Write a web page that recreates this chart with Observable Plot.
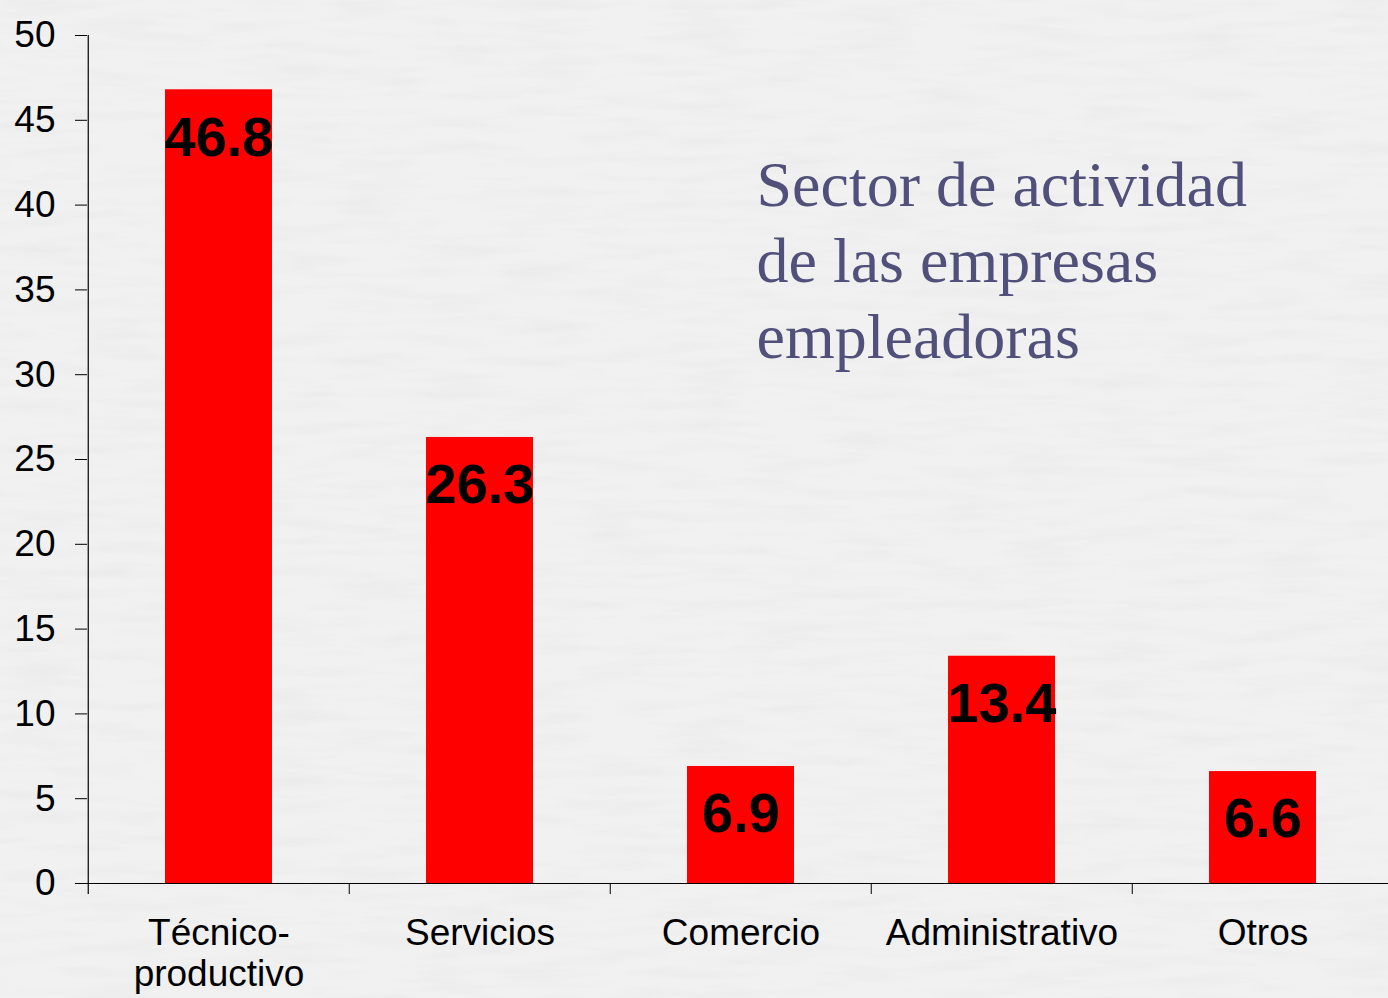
<!DOCTYPE html>
<html>
<head>
<meta charset="utf-8">
<script src="https://cdn.jsdelivr.net/npm/d3@7"></script>
<script src="https://cdn.jsdelivr.net/npm/@observablehq/plot@0.6"></script>
<style>
  html, body { margin: 0; padding: 0; background: #eeeeee; }
  #chart { position: relative; width: 1388px; height: 998px; }
  #texture { position: absolute; left: 0; top: 0; }
  #chart > svg:not(#texture) { position: absolute; left: 0; top: 0; display: block; }
</style>
</head>
<body>
<div id="chart">
  <svg id="texture" width="1388" height="998">
    <filter id="paper" x="0" y="0" width="100%" height="100%">
      <feTurbulence type="fractalNoise" baseFrequency="0.012 0.09" numOctaves="3" seed="4"/>
      <feColorMatrix type="matrix" values="0 0 0 0 0.72  0 0 0 0 0.72  0 0 0 0 0.72  0 0 0 -1.6 0.95"/>
    </filter>
    <rect width="1388" height="998" fill="#f1f1f1"/>
    <rect width="1388" height="998" filter="url(#paper)" opacity="0.35"/>
  </svg>
</div>
<script>
const categories = ["Técnico-productivo", "Servicios", "Comercio", "Administrativo", "Otros"];
const tickLabels = ["Técnico-\nproductivo", "Servicios", "Comercio", "Administrativo", "Otros"];
const values = [46.8, 26.3, 6.9, 13.4, 6.6];
const yTicks = [0, 5, 10, 15, 20, 25, 30, 35, 40, 45, 50];
const titleText = "Sector de actividad\nde las empresas\nempleadoras";

const data = categories.map((c, i) => ({category: c, value: values[i]}));

const width = 1388, height = 998;
const marginLeft = 87, marginTop = 35, marginBottom = 115, marginRight = 0;
const xEnd = 1394.5;
const step = (xEnd - marginLeft) / categories.length;
const frameH = height - marginTop - marginBottom;

const chart = Plot.plot({
  width, height, marginLeft, marginTop, marginBottom, marginRight,
  style: {fontFamily: "'Liberation Sans', Arial, sans-serif", background: "transparent", color: "#000"},
  x: {domain: categories, range: [marginLeft, xEnd], paddingInner: 0.59, paddingOuter: 0.295},
  y: {domain: [0, 50]},
  marks: [
    Plot.barY(data, {x: "category", y: "value", fill: "#ff0000"}),
    Plot.text(data, {
      x: "category", y: "value", text: d => d.value.toFixed(1),
      lineAnchor: "top", dy: 26, fontSize: 56, fontWeight: "bold", fill: "#000"
    }),
    Plot.ruleY([0], {stroke: "#000", strokeWidth: 1.2}),
    // y axis line (left frame edge) extended down as the first category boundary tick
    Plot.ruleX([categories[0]], {x: d => d, dx: -step / 2, insetBottom: -11, stroke: "#000", strokeWidth: 1.2}),
    // category boundary ticks
    Plot.ruleX(categories.slice(1), {x: d => d, dx: -step / 2, insetTop: frameH, insetBottom: -11, stroke: "#000"}),
    Plot.axisY({ticks: yTicks, tickSize: 12, tickPadding: 20, fontSize: 37, stroke: "#000", fill: "#000", label: null}),
    Plot.axisX({
      tickSize: 0, tickPadding: 32, fontSize: 37, lineHeight: 1.12, fill: "#000", label: null,
      tickFormat: d => tickLabels[categories.indexOf(d)]
    }),
    Plot.text([titleText], {
      frameAnchor: "top-left", dx: 669, dy: 116, lineAnchor: "top", textAnchor: "start",
      lineHeight: 1.19, fontSize: 64, fontFamily: "'Liberation Serif', 'Times New Roman', serif",
      fill: "#50507a"
    })
  ]
});
document.getElementById("chart").appendChild(chart);
</script>
</body>
</html>
